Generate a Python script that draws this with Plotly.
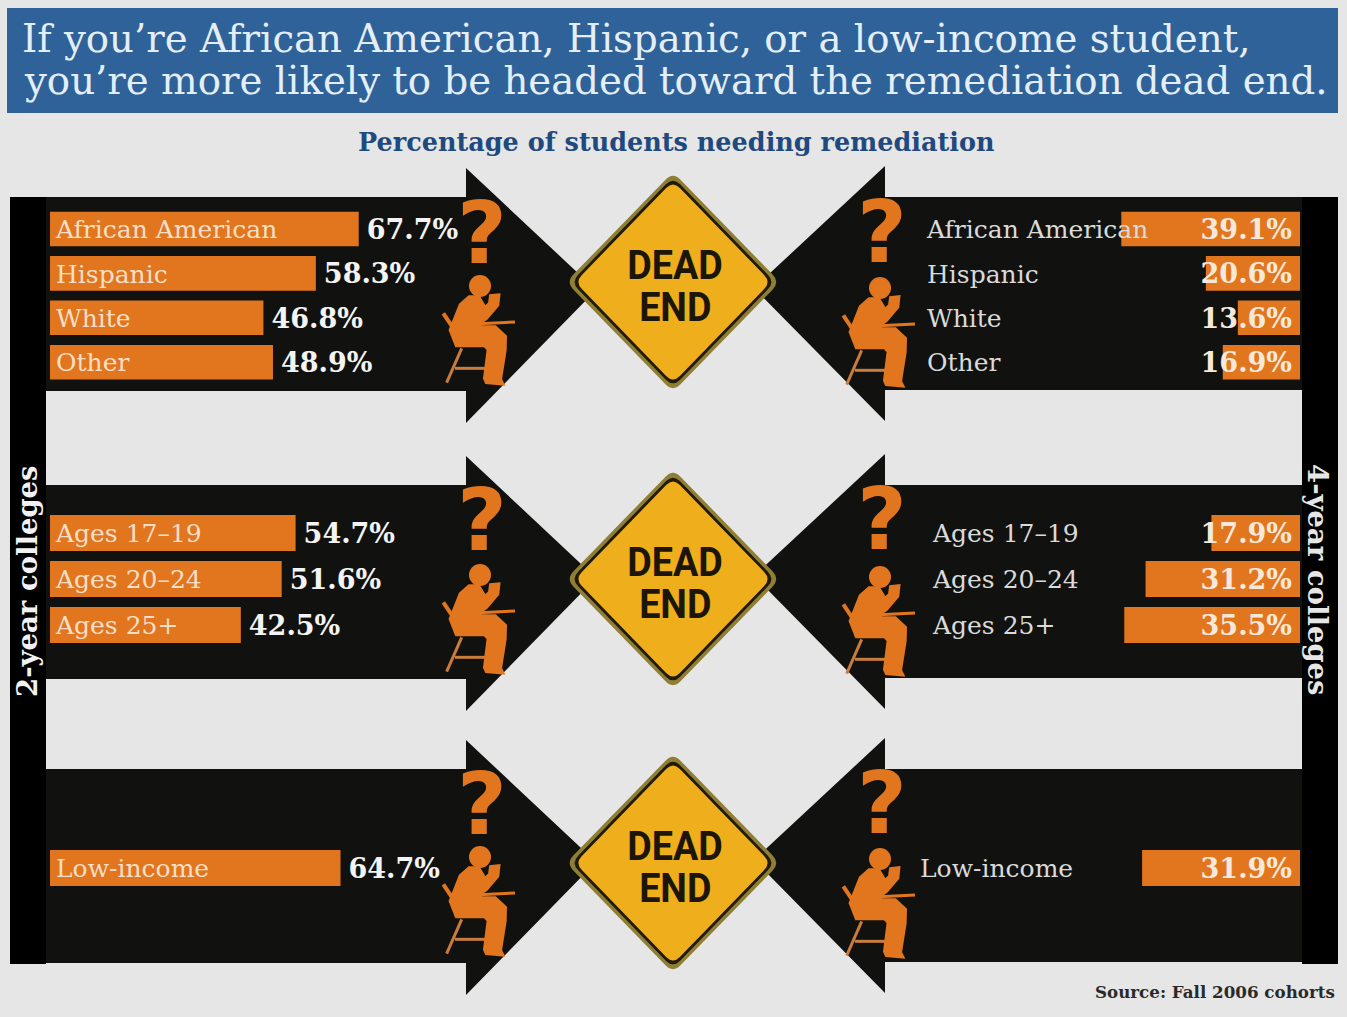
import plotly.graph_objects as go

W, H = 1347, 1017

# ---- data ----
title_line_1 = "If you\u2019re African American, Hispanic, or a low-income student,"
title_line_2 = "you\u2019re more likely to be headed toward the remediation dead end."
subtitle = "Percentage of students needing remediation"
source_note = "Source: Fall 2006 cohorts"
sign_word_1 = "DEAD"
sign_word_2 = "END"

race_groups = ["African American", "Hispanic", "White", "Other"]
age_groups = ["Ages 17\u201319", "Ages 20\u201324", "Ages 25+"]
income_groups = ["Low-income"]

two_year_race = [67.7, 58.3, 46.8, 48.9]
two_year_age = [54.7, 51.6, 42.5]
two_year_income = [64.7]
four_year_race = [39.1, 20.6, 13.6, 16.9]
four_year_age = [17.9, 31.2, 35.5]
four_year_income = [31.9]

# ---- style ----
BG = "#E6E6E6"
BLUE = "#2F6298"
NAVY = "#1F4A7F"
PANEL = "#111210"
ORANGE = "#E2761F"
SIGN = "#EFAE1C"
SERIF = "DejaVu Serif"

px = lambda x: x / W
py = lambda y: 1 - y / H
shapes, annotations = [], []


def poly(points, color, close=True, line=None, width=0):
    path = "M " + " L ".join(f"{px(x):.5f},{py(y):.5f}" for x, y in points) + (" Z" if close else "")
    shapes.append(dict(type="path", xref="paper", yref="paper", path=path, layer="below",
                       fillcolor=color if close else "rgba(0,0,0,0)",
                       line=dict(color=line or color, width=width)))


def rect(x0, y0, x1, y1, color):
    poly([(x0, y0), (x1, y0), (x1, y1), (x0, y1)], color)


def note(x, y, text, size, color, font=SERIF, bold=False, anchor="left", angle=0):
    annotations.append(dict(x=px(x), y=py(y), xref="paper", yref="paper", text=f"<b>{text}</b>" if bold else text,
                            showarrow=False, xanchor=anchor, yanchor="middle", textangle=angle,
                            font=dict(family=font, size=size, color=color)))


def diamond(cx, cy, hw, hh, color, r=0.07):
    v = [(cx, cy - hh), (cx + hw, cy), (cx, cy + hh), (cx - hw, cy)]
    parts = []
    for i in range(4):
        a, b, c = v[i - 1], v[i], v[(i + 1) % 4]
        p = (b[0] + (a[0] - b[0]) * r, b[1] + (a[1] - b[1]) * r)
        q = (b[0] + (c[0] - b[0]) * r, b[1] + (c[1] - b[1]) * r)
        parts.append(("M " if i == 0 else "L ") + f"{px(p[0]):.5f},{py(p[1]):.5f} "
                     f"Q {px(b[0]):.5f},{py(b[1]):.5f} {px(q[0]):.5f},{py(q[1]):.5f}")
    shapes.append(dict(type="path", xref="paper", yref="paper", layer="below", path=" ".join(parts) + " Z",
                       fillcolor=color, line=dict(width=0)))


BODY = [(118, 322), (145, 322), (165, 355), (180, 340), (183, 318), (205, 316), (202, 345), (168, 385), (150, 397),
        (150, 412), (195, 412), (225, 440), (224, 480), (210, 568), (216, 580), (170, 576), (165, 565), (176, 478),
        (165, 466), (80, 466), (62, 420), (72, 395), (92, 345)]


def person(ox, oy):
    t = lambda p: (ox + p[0] / 3, oy + p[1] / 3)
    for a, b, w, c in [((40, 370), (68, 412), 4, ORANGE), ((95, 475), (50, 578), 3, "#C97C3C"),
                       ((75, 535), (165, 535), 3, "#C97C3C"), ((148, 401), (255, 396), 3, ORANGE)]:
        poly([t(a), t(b)], c, close=False, line=c, width=w)
    poly([t(p) for p in BODY], ORANGE, line=ORANGE, width=4)
    hx, hy = t((150, 288))
    shapes.append(dict(type="circle", xref="paper", yref="paper", layer="below", fillcolor=ORANGE,
                       line=dict(width=0), x0=px(hx - 11), x1=px(hx + 11), y0=py(hy - 11), y1=py(hy + 11)))


# ---- background furniture ----
rect(0, 0, W, H, BG)
rect(7, 8, 1338, 113, BLUE)
rect(10, 197, 46, 964, "#000000")
rect(1302, 197, 1338, 964, "#000000")

arrow_offsets = [0, 288, 572]
sign_offsets = [0, 297, 581]
person_offsets = [0, 289, 571]
q_ys = [233, 520, 804]
for d, sd, pd, qy in zip(arrow_offsets, sign_offsets, person_offsets, q_ys):
    poly([(46, 197 + d), (466, 197 + d), (466, 168 + d), (596, 290 + d),
          (466, 423 + d), (466, 391 + d), (46, 391 + d)], PANEL)
    poly([(1302, 197 + d), (885, 197 + d), (885, 166 + d), (754, 288 + d),
          (885, 421 + d), (885, 390 + d), (1302, 390 + d)], PANEL)
    person(430, 190 + pd)
    person(830, 192 + pd)
    note(482, qy, "<b>?</b>", 86, ORANGE, font="DejaVu Sans", anchor="center")
    note(882, qy - 1, "<b>?</b>", 86, ORANGE, font="DejaVu Sans", anchor="center")
    cy = 282 + sd
    diamond(673, cy, 107, 110, "#8F7F35")
    diamond(673, cy, 102, 105, "#221A08")
    diamond(673, cy, 98, 101, SIGN)
    note(675, cy - 17, f"<b>{sign_word_1}</b>", 41, "#1C1608", font="Roboto", anchor="center")
    note(675, cy + 25, f"<b>{sign_word_2}</b>", 41, "#1C1608", font="Roboto", anchor="center")

note(20, 39, title_line_1, 38.7, "#E4EEF7")
note(22, 80, title_line_2, 38.7, "#E4EEF7")
note(675.5, 142, subtitle, 25.5, NAVY, bold=True, anchor="center")
note(1337, 992, source_note, 16.7, "#2A2A2A", bold=True, anchor="right")
note(27, 581, "2-year colleges", 27.5, "#F2F2F2", bold=True, anchor="center", angle=-90)
note(1318, 580, "4-year colleges", 27.5, "#E6E6E6", bold=True, anchor="center", angle=90)

# ---- bars, through real axes ----
LEFT0, RIGHT0 = 50, 1300
TEXT_DROP = 3  # text axes sit a little lower so the lettering centres on its bar
# (categories, 2-year values, 4-year values, top px, bottom px, right label px, left px/unit, right px/unit)
rows = [
    (race_groups, two_year_race, four_year_race, 206.8, 384.4, 927, 4.56, 4.57),
    (age_groups, two_year_age, four_year_age, 510, 648, 933, 4.49, 4.95),
    (income_groups, two_year_income, four_year_income, 845, 891, 920, 4.49, 4.95),
]

fig = go.Figure()
layout_axes = {}
y_n = 1
x_n = 1


def axis_name(prefix, n):
    return prefix if n == 1 else f"{prefix}{n}"


for cats, left_vals, right_vals, top, bottom, right_label_px, left_scale, right_scale in rows:
    for side, vals, scale in (("left", left_vals, left_scale), ("right", right_vals, right_scale)):
        xa = axis_name("x", x_n)
        span = 100 * scale
        if side == "left":
            xdef = dict(domain=[px(LEFT0), px(LEFT0 + span)], range=[0, 100])
        else:
            xdef = dict(domain=[px(RIGHT0 - span), px(RIGHT0)], range=[100, 0])
        layout_axes[axis_name("xaxis", x_n)] = dict(visible=False, fixedrange=True, **xdef)
        x_n += 1

        bar_y = axis_name("y", y_n)
        text_y = axis_name("y", y_n + 1)
        for n, drop in ((y_n, 0), (y_n + 1, TEXT_DROP)):
            layout_axes[axis_name("yaxis", n)] = dict(
                domain=[py(bottom + drop), py(top + drop)], type="category", categoryorder="array",
                categoryarray=cats, range=[len(cats) - 0.5, -0.5], visible=False, fixedrange=True, anchor=xa)
        y_n += 2

        fig.add_trace(go.Bar(x=vals, y=cats, orientation="h", xaxis=xa, yaxis=bar_y,
                             marker=dict(color=ORANGE, line=dict(width=0)), hoverinfo="skip", showlegend=False))
        value_text = [f"{v}%" for v in vals]
        if side == "left":
            label_x, label_col = [6 / scale] * len(cats), "#F6DFC6"
            val_x, val_pos, val_col = [v + 8 / scale for v in vals], "middle right", "#F4F4F4"
        else:
            label_x, label_col = [(RIGHT0 - right_label_px) / scale] * len(cats), "#DADADA"
            val_x, val_pos, val_col = [8 / scale] * len(cats), "middle left", "#F6E9DC"
        fig.add_trace(go.Scatter(x=label_x, y=cats, mode="text", text=cats, textposition="middle right",
                                 textfont=dict(family=SERIF, size=25, color=label_col), xaxis=xa, yaxis=text_y,
                                 cliponaxis=False, hoverinfo="skip", showlegend=False))
        fig.add_trace(go.Scatter(x=val_x, y=cats, mode="text", text=value_text, textposition=val_pos,
                                 textfont=dict(family=SERIF, size=27, color=val_col, weight="bold"),
                                 xaxis=xa, yaxis=text_y, cliponaxis=False, hoverinfo="skip", showlegend=False))

fig.update_layout(width=W, height=H, margin=dict(l=0, r=0, t=0, b=0), autosize=False, paper_bgcolor=BG,
                  plot_bgcolor="rgba(0,0,0,0)", bargap=0.22, shapes=shapes, annotations=annotations, **layout_axes)

# The page's default body margin would shift everything; the road-sign lettering is condensed.
POST = """
document.body.style.margin = '0';
document.querySelectorAll('text.annotation-text').forEach(function (el) {
  var t = el.textContent;
  if (t === 'DEAD' || t === 'END') {
    el.style.transformBox = 'fill-box';
    el.style.transformOrigin = 'center';
    el.style.transform = 'scaleX(0.92)';
  }
});
"""
fig.write_html("out.html", config=dict(displayModeBar=False), post_script=POST)
